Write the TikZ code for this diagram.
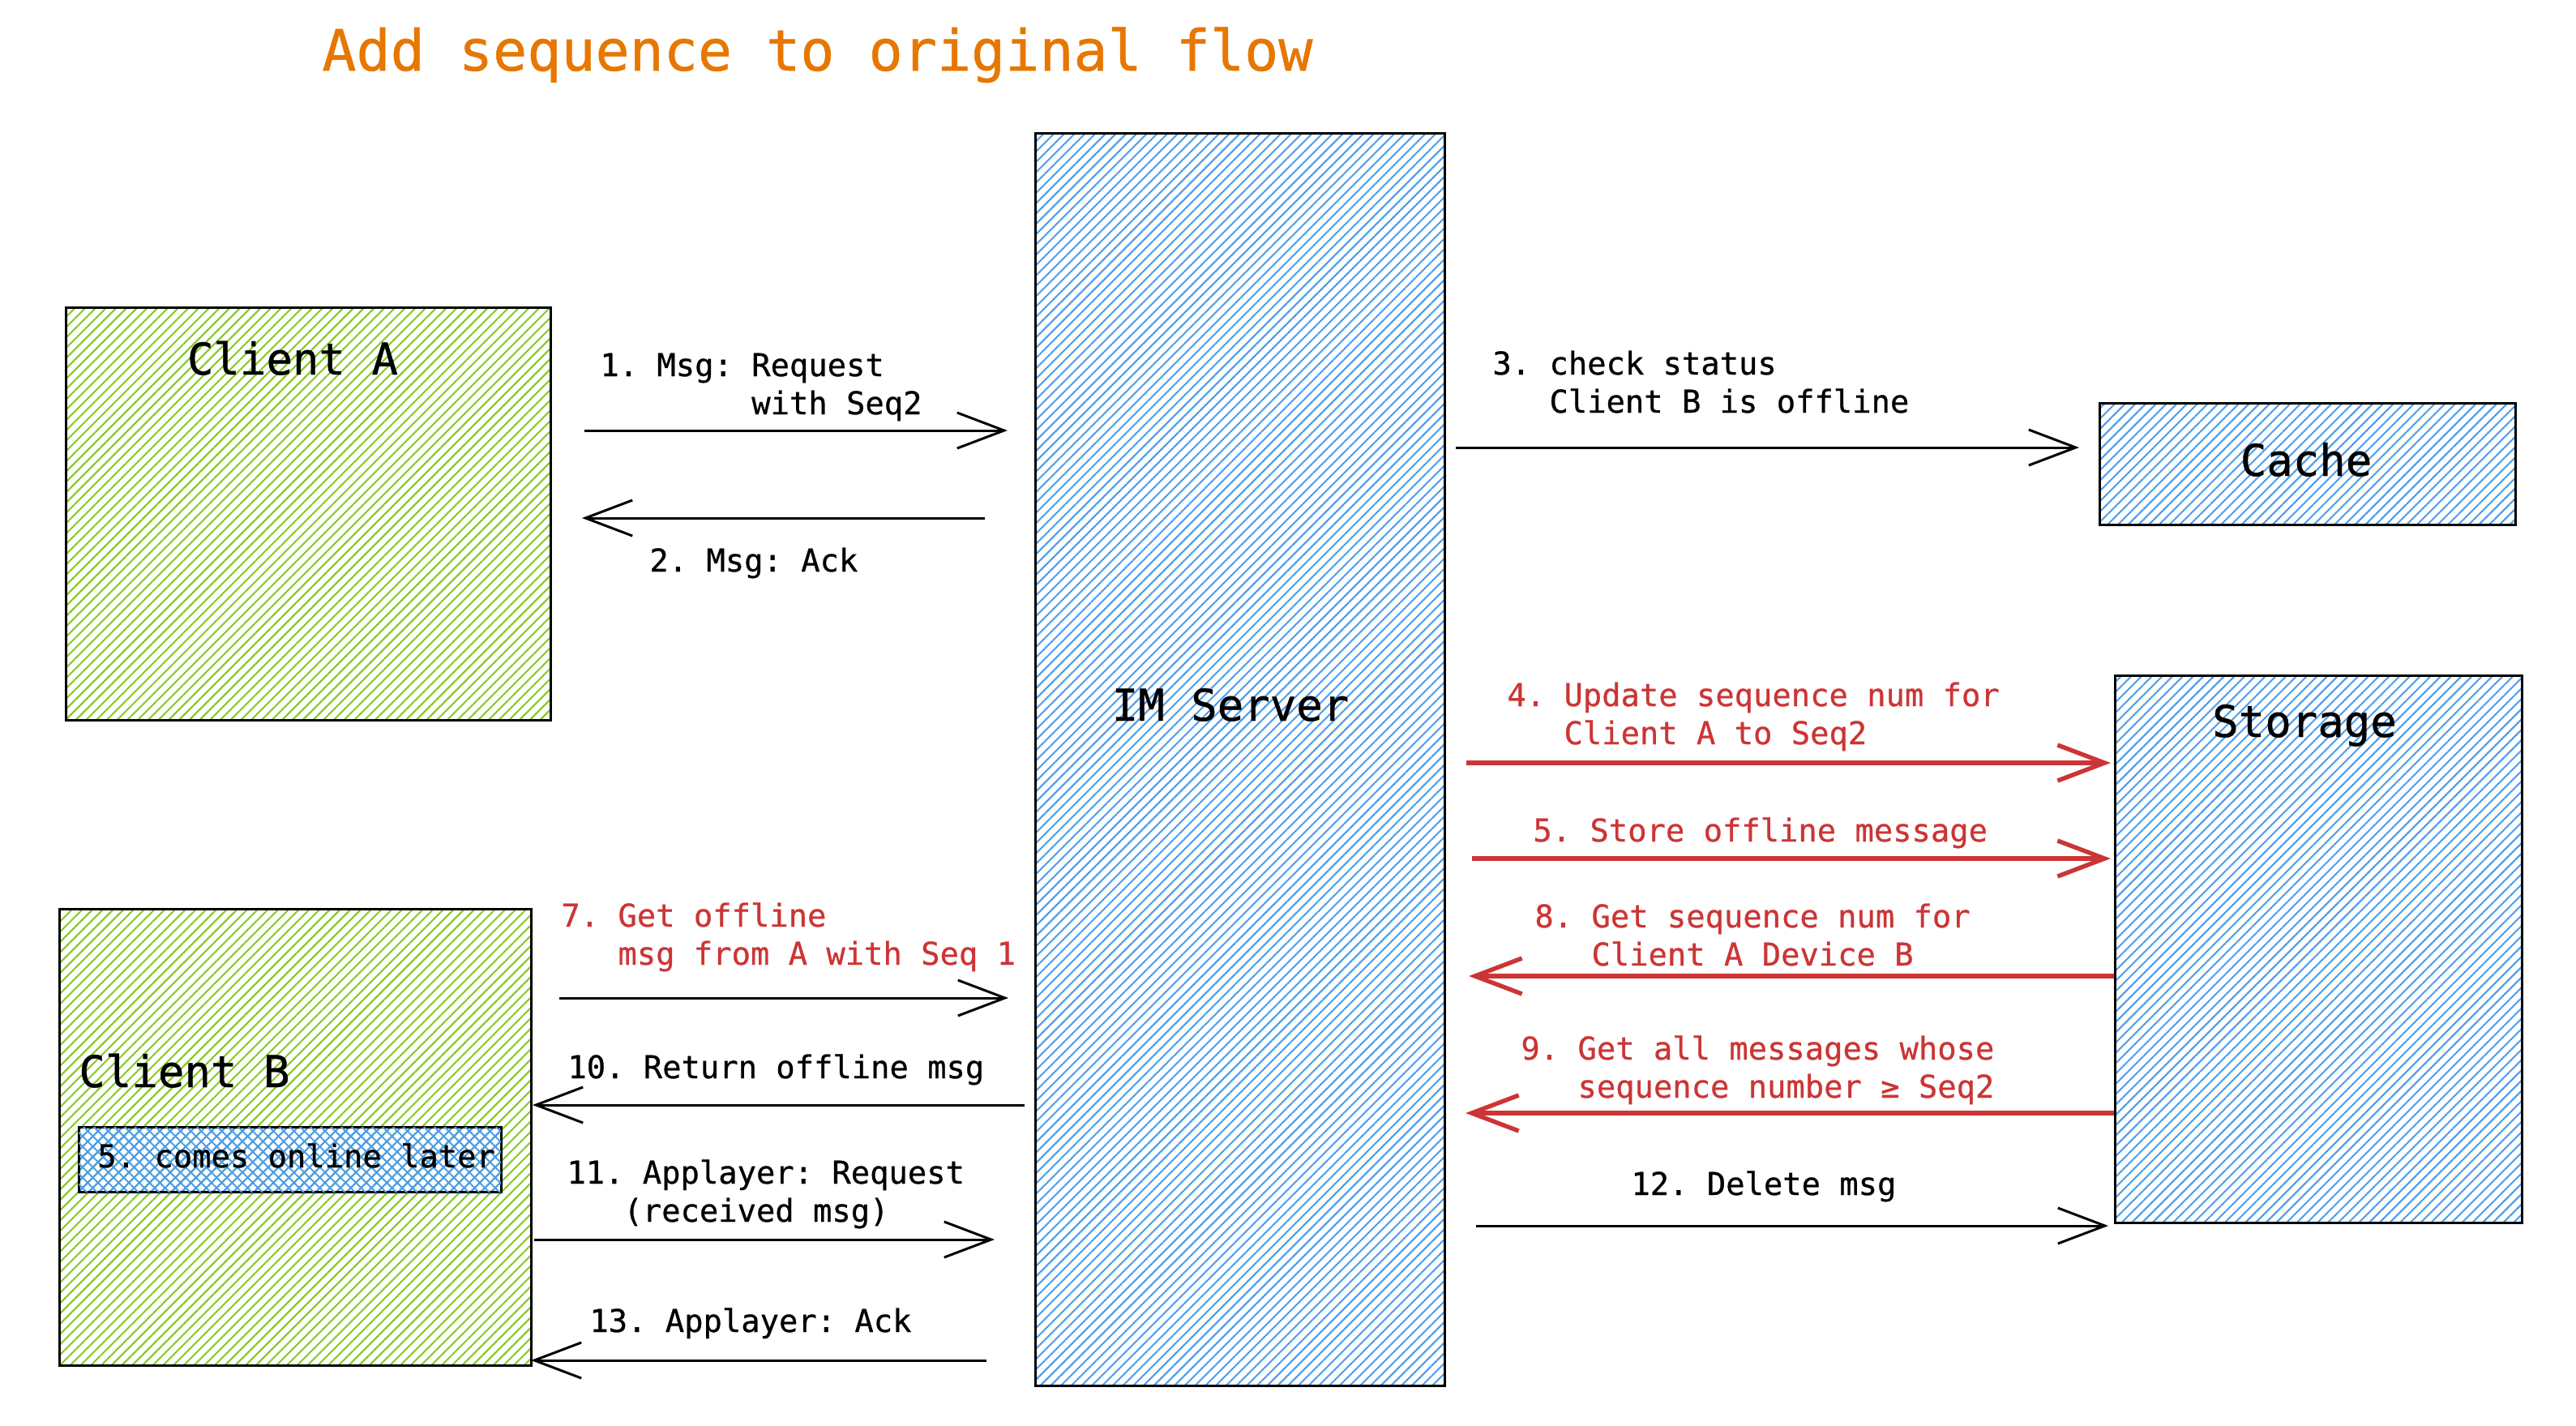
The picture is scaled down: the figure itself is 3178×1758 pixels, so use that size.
\documentclass[tikz,border=0pt]{standalone}
\usepackage{fontspec}
\setmainfont{DejaVu Sans Mono}[FakeBold=0.7]
\frenchspacing
\usetikzlibrary{arrows.meta,patterns.meta}
\definecolor{hgreen}{HTML}{82C91E}
\definecolor{hblue}{HTML}{4A9CEC}
\definecolor{hred}{HTML}{CC3535}
\definecolor{horange}{HTML}{E67700}
\tikzset{
  hatch/.style={pattern={Lines[angle=45,distance=4.5pt,line width=1pt]},pattern color=#1},
  crosshatch/.style={hatch=#1,postaction={pattern={Lines[angle=-45,distance=4.5pt,line width=1pt]},pattern color=#1}},
  box/.style={draw=black,line width=1.5pt,inner sep=0},
  boxtext/.style={anchor=base,inner sep=0,font=\fontsize{27}{32}\selectfont},
  msgtext/.style={anchor=base west,align=left,inner sep=0,font=\fontsize{19.4}{23.5}\selectfont},
  redtext/.style={msgtext,text=hred},
  msg/.style={-{Straight Barb[length=29pt,width=22pt]},line width=1.5pt},
  redmsg/.style={msg,draw=hred,line width=2.7pt}
}
\begin{document}
\begin{tikzpicture}[x=.5pt,y=-.5pt]
\useasboundingbox(0,0)rectangle(3178,1758);
\node[anchor=base west,inner sep=0,text=horange,font=\fontsize{35}{40}\selectfont](Title)at(397,87){Add sequence to original flow};
\node[box,hatch=hgreen,minimum width=299pt,minimum height=254.5pt](ClientA)at(380,633.5){};
\node[box,hatch=hgreen,minimum width=291pt,minimum height=281.5pt](ClientB)at(364,1402.5){};
\node[box,crosshatch=hblue,minimum width=260.5pt,minimum height=40pt](Online)at(357.5,1430){};
\node[box,hatch=hblue,minimum width=252.5pt,minimum height=772.5pt](Server)at(1529.5,936.5){};
\node[box,hatch=hblue,minimum width=256.5pt,minimum height=75pt](Cache)at(2846.5,572){};
\node[box,hatch=hblue,minimum width=251pt,minimum height=337.5pt](Storage)at(2860,1170.5){};
\node[boxtext](ClientAText)at(361,462){Client A};
\node[boxtext,anchor=base west](ClientBText)at(97,1341){Client B};
\node[boxtext](ServerText)at(1518,889){IM Server};
\node[boxtext](CacheText)at(2845,587){Cache};
\node[boxtext](StorageText)at(2843,909){Storage};
\node[msgtext](OnlineText)at(120,1440){5. comes online later};
\coordinate(M1a)at(721,531);
\coordinate(M1b)at(1243,531);
\coordinate(M2a)at(1215,639);
\coordinate(M2b)at(718,639);
\coordinate(M3a)at(1796,552);
\coordinate(M3b)at(2565,552);
\coordinate(M4a)at(1809,941);
\coordinate(M4b)at(2604,941);
\coordinate(M5a)at(1816,1059);
\coordinate(M5b)at(2604,1059);
\coordinate(M7a)at(690,1231);
\coordinate(M7b)at(1244,1231);
\coordinate(M8a)at(2608,1204);
\coordinate(M8b)at(1812,1204);
\coordinate(M9a)at(2608,1373);
\coordinate(M9b)at(1808,1373);
\coordinate(M10a)at(1264,1363);
\coordinate(M10b)at(657,1363);
\coordinate(M11a)at(659,1529);
\coordinate(M11b)at(1227,1529);
\coordinate(M12a)at(1821,1512);
\coordinate(M12b)at(2601,1512);
\coordinate(M13a)at(1217,1678);
\coordinate(M13b)at(655,1678);
\begin{scope}[every node/.style={msgtext}]
\node(L1)at(740,511){1. Msg: Request\\\hphantom{1. Msg: }with Seq2};
\node(L2)at(801,705){2. Msg: Ack};
\node(L3)at(1841,509){3. check status\\\hphantom{3. }Client B is offline};
\node(L10)at(700,1330){10. Return offline msg};
\node(L11)at(699,1507){11. Applayer: Request\\\hphantom{11.}(received msg)};
\node(L12)at(2012,1474){12. Delete msg};
\node(L13)at(727,1643){13. Applayer: Ack};
\end{scope}
\begin{scope}[every node/.style={redtext}]
\node(L4)at(1859,918){4. Update sequence num for\\\hphantom{4. }Client A to Seq2};
\node(L5)at(1891,1038){5. Store offline message};
\node(L7)at(692,1190){7. Get offline\\\hphantom{7. }msg from A with Seq 1};
\node(L8)at(1893,1191){8. Get sequence num for\\\hphantom{8. }Client A Device B};
\node(L9)at(1876,1354){9. Get all messages whose\\\hphantom{9. }sequence number ≥ Seq2};
\end{scope}
\begin{scope}[msg]
\draw(M1a)--(M1b);
\draw(M2a)--(M2b);
\draw(M3a)--(M3b);
\draw(M7a)--(M7b);
\draw(M10a)--(M10b);
\draw(M11a)--(M11b);
\draw(M12a)--(M12b);
\draw(M13a)--(M13b);
\end{scope}
\begin{scope}[redmsg]
\draw(M4a)--(M4b);
\draw(M5a)--(M5b);
\draw(M8a)--(M8b);
\draw(M9a)--(M9b);
\end{scope}
\end{tikzpicture}
\end{document}
